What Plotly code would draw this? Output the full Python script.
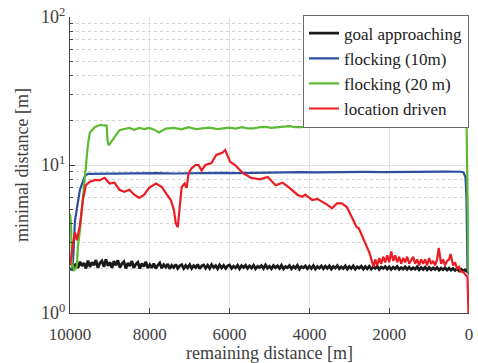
import plotly.graph_objects as go

# ---------------- data ----------------
black_x = list(range(10000, -1, -50))
black_y = [2.00, 1.97, 2.05, 2.15, 2.02, 2.22, 2.08, 2.18, 2.00, 2.26,
           2.05, 2.20, 2.10, 2.28, 2.02, 2.18, 2.25, 2.05, 2.30, 2.08,
           2.20, 2.02, 2.24, 2.10, 2.27, 2.03, 2.15, 2.22, 2.00, 2.18,
           2.08, 2.24, 2.02, 2.14, 2.20, 2.00, 2.16, 2.06, 2.22, 2.01,
           2.12, 2.02, 2.16, 2.00, 2.10, 2.18, 2.01, 2.12, 2.04, 2.14,
           1.99, 2.10, 2.03, 2.13, 2.00, 2.08, 2.12, 2.00, 2.10, 2.02,
           2.12, 2.00, 2.09, 2.03, 2.13, 1.99, 2.08, 2.11, 2.01, 2.10,
           2.00, 2.12, 2.03, 2.09, 1.99, 2.11, 2.02, 2.10, 2.00, 2.08,
           2.11, 2.00, 2.07, 2.02, 2.10, 1.99, 2.09, 2.03, 2.10, 2.00,
           2.08, 2.01, 2.10, 1.99, 2.07, 2.03, 2.09, 2.00, 2.11, 2.01,
           2.07, 1.99, 2.09, 2.02, 2.08, 2.00, 2.10, 1.99, 2.06, 2.02,
           2.09, 1.99, 2.07, 2.01, 2.10, 1.98, 2.06, 2.02, 2.08, 1.99,
           2.07, 2.00, 2.09, 1.98, 2.06, 2.01, 2.08, 1.99, 2.07, 2.00,
           2.08, 1.98, 2.06, 2.01, 2.09, 1.99, 2.05, 2.00, 2.08, 1.98,
           2.06, 2.00, 2.08, 1.98, 2.05, 2.01, 2.07, 1.98, 2.06, 1.99,
           2.07, 1.98, 2.05, 2.00, 2.07, 1.97, 2.04, 2.00, 2.06, 1.98,
           2.05, 1.97, 2.04, 1.99, 2.06, 1.97, 2.03, 1.98, 2.05, 1.97,
           2.04, 1.97, 2.02, 1.98, 2.05, 1.96, 2.03, 1.97, 2.04, 1.96,
           2.03, 1.96, 2.02, 1.97, 2.03, 1.95, 2.01, 1.96, 2.02, 1.95,
           2.01, 1.95, 2.00, 1.94, 1.99, 1.93, 1.98, 1.92, 1.96, 1.91,
           1.90]

blue_x = [10000, 9950, 9926, 9876, 9752, 9628, 9554, 9300, 9000, 8600, 8200,
          7800, 7400, 7000, 6600, 6200, 5800, 5400, 5000, 4600, 4200, 3800,
          3400, 3000, 2600, 2200, 1800, 1400, 1000, 600, 200, 138, 88, 63,
          38, 13, 0]
blue_y = [2.0, 1.95, 2.2, 4.2, 6.8, 8.4, 8.7, 8.72, 8.78, 8.74, 8.76,
          8.8, 8.76, 8.82, 8.78, 8.84, 8.8, 8.86, 8.9, 8.88, 8.94, 8.92,
          8.96, 8.94, 8.98, 8.96, 9.0, 8.98, 9.0, 9.02, 9.0, 8.9, 8.3, 6.0,
          2.0, 1.8, 1.8]

green_x = [10000, 9975, 9950, 9926, 9901, 9851, 9827, 9802, 9752, 9678,
           9604, 9554, 9504, 9380, 9257, 9133, 9083, 9058, 9034, 9009, 8885,
           8761, 8637, 8513, 8389, 8265, 8141, 8018, 7900, 7770, 7600, 7398,
           7200, 7027, 6850, 6700, 6500, 6300, 6150, 6000, 5850, 5700, 5550,
           5400, 5250, 5100, 4950, 4800, 4650, 4500, 4350, 4200, 4050, 3900,
           3750, 3600, 3450, 3300, 3150, 3000, 2850, 2700, 2550, 2400, 2250,
           2100, 1950, 1800, 1650, 1500, 1350, 1200, 1050, 900, 750, 600, 450,
           300, 150, 60, 38, 25, 13, 0]
green_y = [4.7, 4.0, 2.0, 2.1, 1.95, 2.0, 2.1, 2.8, 3.6, 6.0,
           10.8, 13.5, 16.5, 18.0, 18.6, 18.6, 18.5, 14.5, 13.6, 13.8, 15.5,
           17.2, 17.5, 17.8, 17.3, 17.8, 17.5, 17.8, 17.4, 16.6, 17.6, 17.8,
           17.4, 18.0, 17.5, 17.6, 17.9, 17.5, 17.8, 17.9, 17.6, 18.0, 17.7,
           17.7, 18.0, 18.1, 17.8, 18.0, 18.2, 18.3, 18.0, 18.0, 18.3, 18.4,
           18.1, 18.2, 18.5, 18.5, 18.2, 18.3, 18.6, 18.5, 18.3, 18.4, 18.7,
           18.6, 18.4, 18.5, 18.8, 18.7, 18.5, 18.6, 18.9, 18.8, 18.6, 19.0,
           18.8, 18.9, 19.1, 18.7, 4.0, 2.0, 1.9, 1.9]

red_x = [10000, 9950, 9926, 9876, 9827, 9752, 9678, 9604, 9504, 9380,
         9257, 9133, 9009, 8885, 8761, 8637, 8513, 8389, 8265, 8141,
         8018, 7844, 7696, 7572, 7473, 7398, 7349, 7299, 7250, 7200,
         7126, 7076, 7027, 6952, 6853, 6779, 6704, 6605, 6456, 6333,
         6184, 6110, 5986, 5862, 5664, 5465, 5242, 5044, 4846, 4672,
         4499, 4301, 4177, 4102, 3929, 3805, 3557, 3433, 3309, 3186,
         3062, 2938, 2814, 2764, 2640, 2492, 2393, 2350, 2300, 2250,
         2200, 2150, 2100, 2050, 2000, 1947, 1900, 1850, 1800, 1750,
         1700, 1650, 1600, 1550, 1500, 1450, 1400, 1350, 1300, 1250,
         1200, 1150, 1100, 1050, 1000, 950, 900, 850, 800, 758,
         700, 650, 600, 550, 500, 460, 400, 350, 300, 250,
         212, 150, 88, 38, 13, 0]
red_y = [2.1, 2.5, 2.9, 3.5, 3.1, 3.9, 5.8, 7.3, 7.7, 7.9,
         7.9, 8.2, 7.5, 7.6, 6.8, 6.6, 6.8, 6.3, 6.0, 6.3,
         7.0, 7.5, 7.1, 6.3, 5.8, 5.0, 4.05, 3.8, 5.0, 7.1,
         7.5, 7.0, 8.8, 9.5, 10.0, 10.0, 9.2, 10.0, 10.3, 11.7,
         12.1, 12.6, 10.5, 10.0, 8.8, 8.2, 8.0, 8.3, 7.3, 7.6,
         7.0, 6.3, 6.1, 6.3, 5.8, 5.9, 5.4, 5.1, 5.5, 5.5,
         5.2, 4.45, 3.8, 3.75, 3.1, 2.54, 2.05, 2.3, 2.1, 2.35,
         2.15, 2.4, 2.2, 2.45, 2.2, 2.6, 2.25, 2.45, 2.2, 2.4,
         2.15, 2.35, 2.2, 2.4, 2.15, 2.3, 2.4, 2.15, 2.3, 2.1,
         2.3, 2.15, 2.3, 2.1, 2.35, 2.15, 2.25, 2.1, 2.3, 2.75,
         2.15, 2.3, 2.1, 2.25, 2.3, 2.5, 2.1, 2.2, 2.0, 2.05,
         1.9, 1.9, 1.8, 1.75, 1.0, 1.0]

series_names = ["goal approaching", "flocking (10m)", "flocking (20 m)", "location driven"]
series_colors = ["#1a1a1a", "#2e4ea0", "#5cbb32", "#ec1c24"]

x_tick_vals = [10000, 8000, 6000, 4000, 2000, 0]
x_tick_text = ["10000", "8000", "6000", "4000", "2000", "0"]
y_tick_vals = [1, 10, 100]
y_tick_text = ["10<sup>0</sup>", "10<sup>1</sup>", "10<sup>2</sup>"]
y_minor_vals = [2, 3, 4, 5, 6, 7, 8, 9, 20, 30, 40, 50, 60, 70, 80, 90]

# ---------------- figure ----------------
fig = go.Figure()
data = [(black_x, black_y), (blue_x, blue_y), (green_x, green_y), (red_x, red_y)]
widths = [2.8, 2.2, 2.2, 2.2]
for (xs, ys), name, col, w in zip(data, series_names, series_colors, widths):
    fig.add_trace(go.Scatter(x=xs, y=ys, mode="lines", name=name,
                             line=dict(color=col, width=w)))

font_family = "Liberation Serif"
axis_col = "#444444"

fig.update_layout(
    width=478, height=363,
    margin=dict(l=70, r=5, t=17, b=50),
    plot_bgcolor="white", paper_bgcolor="white",
    font=dict(family=font_family, size=16, color="#404040"),
    showlegend=True,
    legend=dict(x=1, y=1.008, xanchor="right", yanchor="top",
                bgcolor="white", bordercolor="#6a6a6a", borderwidth=1,
                font=dict(family=font_family, size=17, color="#222222"),
                tracegroupgap=0, itemwidth=30),
)

fig.update_xaxes(
    range=[10000, 0],
    tickvals=x_tick_vals, ticktext=x_tick_text,
    ticks="inside", ticklen=5, tickcolor=axis_col,
    showline=True, linecolor=axis_col, linewidth=1,
    showgrid=True, gridcolor="#e3e3e3", gridwidth=1,
    zeroline=False,
    ticklabelstandoff=6,
    tickfont=dict(family=font_family, size=17, color="#404040"),
    title=dict(text="remaining distance [m]", font=dict(family=font_family, size=18, color="#404040"), standoff=1),
)

fig.update_yaxes(
    type="log", range=[0, 2],
    tickvals=y_tick_vals, ticktext=y_tick_text,
    ticks="inside", ticklen=5, tickcolor=axis_col,
    showline=True, linecolor=axis_col, linewidth=1,
    showgrid=True, gridcolor="#e3e3e3", gridwidth=1,
    zeroline=False,
    tickfont=dict(family=font_family, size=18, color="#404040"),
    minor=dict(tickvals=y_minor_vals, ticks="inside", ticklen=3, tickcolor=axis_col,
               showgrid=True, gridcolor="#d4d4d4", griddash="dot", gridwidth=1),
    title=dict(text="minimal distance [m]", font=dict(family=font_family, size=18, color="#404040"), standoff=7),
)

fig.write_html("out.html")
